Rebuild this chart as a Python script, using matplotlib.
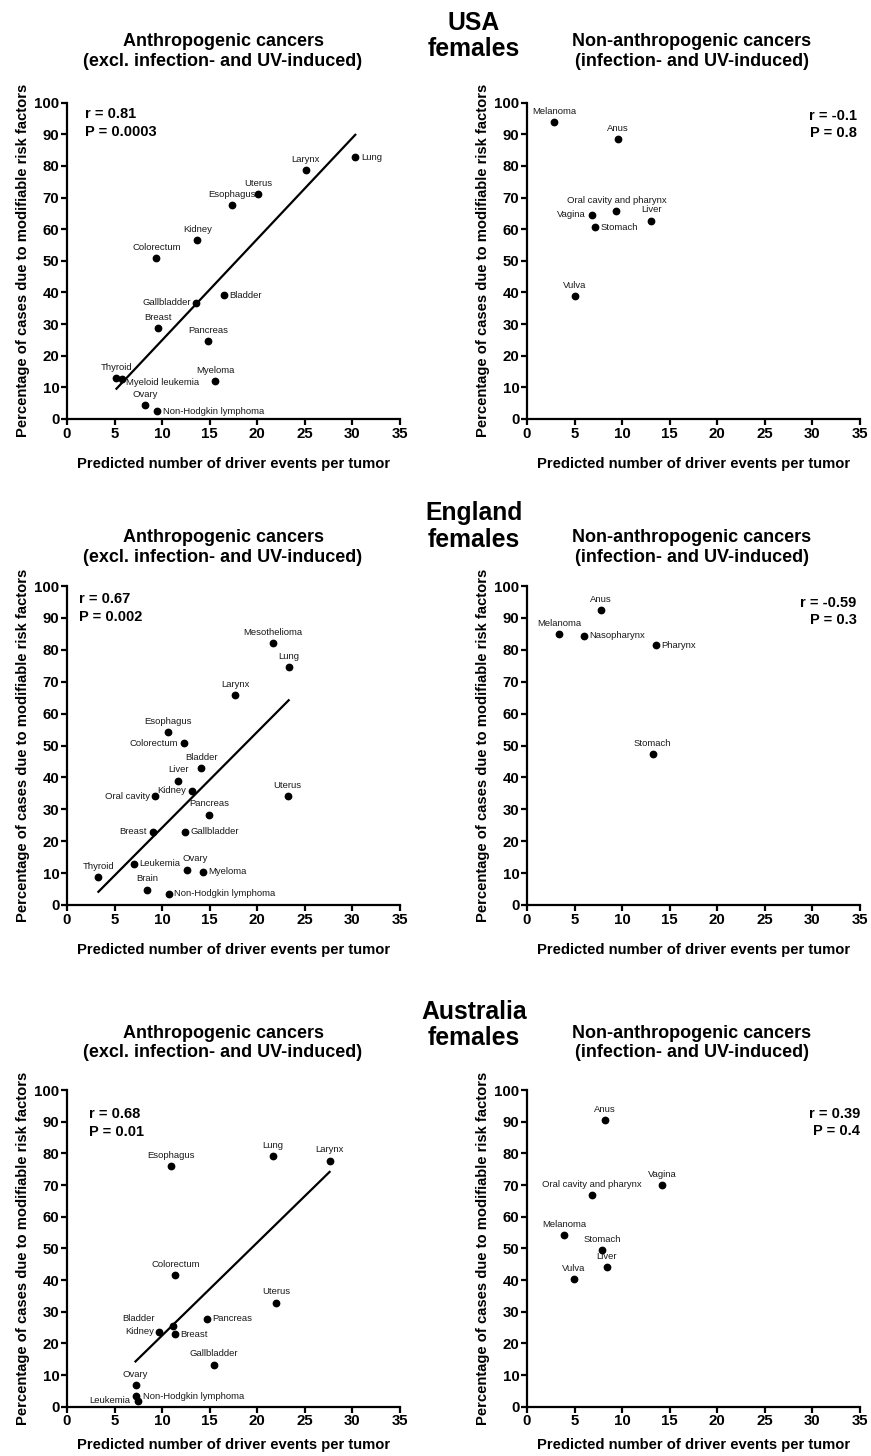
import numpy as np
import matplotlib
matplotlib.use('Agg')
import matplotlib.pyplot as plt

plt.rcParams['font.family'] = ['Liberation Sans', 'DejaVu Sans']

# ---- data ----
# USA, anthropogenic
usa_a_names = ['Lung', 'Larynx', 'Uterus', 'Esophagus', 'Kidney', 'Colorectum', 'Bladder',
               'Gallbladder', 'Breast', 'Pancreas', 'Thyroid', 'Myeloid leukemia', 'Myeloma',
               'Ovary', 'Non-Hodgkin lymphoma']
usa_a_x = [30.3, 25.1, 20.1, 17.3, 13.7, 9.4, 16.5, 13.6, 9.6, 14.8, 5.2, 5.8, 15.6, 8.25, 9.5]
usa_a_y = [82.8, 78.6, 71.1, 67.6, 56.5, 50.9, 39.2, 36.7, 28.8, 24.7, 12.9, 12.5, 11.9, 4.4, 2.5]

# USA, non-anthropogenic
usa_n_names = ['Melanoma', 'Anus', 'Oral cavity and pharynx', 'Vagina', 'Stomach', 'Liver', 'Vulva']
usa_n_x = [2.85, 9.55, 9.4, 6.8, 7.1, 13.05, 5.0]
usa_n_y = [93.8, 88.4, 65.8, 64.6, 60.6, 62.7, 38.9]

# England, anthropogenic
eng_a_names = ['Mesothelioma', 'Lung', 'Larynx', 'Esophagus', 'Colorectum', 'Bladder', 'Liver',
               'Kidney', 'Oral cavity', 'Uterus', 'Pancreas', 'Breast', 'Gallbladder', 'Thyroid',
               'Leukemia', 'Ovary', 'Myeloma', 'Brain', 'Non-Hodgkin lymphoma']
eng_a_x = [21.6, 23.3, 17.7, 10.6, 12.3, 14.1, 11.7, 13.1, 9.3, 23.2, 14.9, 9.0, 12.4, 3.3,
           7.0, 12.6, 14.3, 8.4, 10.7]
eng_a_y = [82.2, 74.6, 65.8, 54.2, 50.7, 43.0, 39.0, 35.8, 34.1, 34.2, 28.3, 23.0, 23.0, 8.8,
           12.9, 11.1, 10.5, 4.8, 3.5]

# England, non-anthropogenic
eng_n_names = ['Anus', 'Melanoma', 'Nasopharynx', 'Pharynx', 'Stomach']
eng_n_x = [7.75, 3.35, 6.0, 13.55, 13.2]
eng_n_y = [92.5, 84.8, 84.4, 81.4, 47.4]

# Australia, anthropogenic
aus_a_names = ['Lung', 'Larynx', 'Esophagus', 'Colorectum', 'Uterus', 'Pancreas', 'Bladder',
               'Kidney', 'Breast', 'Gallbladder', 'Ovary', 'Leukemia', 'Non-Hodgkin lymphoma']
aus_a_x = [21.65, 27.6, 10.95, 11.4, 22.0, 14.7, 11.1, 9.7, 11.3, 15.4, 7.2, 7.26, 7.5]
aus_a_y = [79.2, 77.7, 76.0, 41.6, 32.9, 27.8, 25.6, 23.6, 22.8, 13.3, 6.9, 3.4, 1.9]

# Australia, non-anthropogenic
aus_n_names = ['Anus', 'Vagina', 'Oral cavity and pharynx', 'Melanoma', 'Stomach', 'Liver', 'Vulva']
aus_n_x = [8.15, 14.2, 6.8, 3.9, 7.9, 8.4, 4.95]
aus_n_y = [90.4, 70.0, 66.8, 54.2, 49.4, 44.1, 40.4]

stats = [('r = 0.81', 'P = 0.0003'), ('r = -0.1', 'P = 0.8'),
         ('r = 0.67', 'P = 0.002'), ('r = -0.59', 'P = 0.3'),
         ('r = 0.68', 'P = 0.01'), ('r = 0.39', 'P = 0.4')]
countries = ['USA', 'England', 'Australia']

# label placement per point: 'a' above, 'r' right, 'l' left, or an (dx, dy) offset in points
usa_a_pos = ['r', 'a', 'a', 'a', 'a', 'a', 'r', 'l', 'a', 'a', 'a', (3, -2), 'a', 'a', 'r']
usa_n_pos = ['a', 'a', 'a', 'l', 'r', 'a', 'a']
eng_a_pos = ['a', 'a', 'a', 'a', 'l', 'a', 'a', 'l', 'l', 'a', 'a', 'l', 'r', 'a',
             'r', (6, 4.5, 'a'), 'r', 'a', 'r']
eng_n_pos = ['a', 'a', 'r', 'r', 'a']
aus_a_pos = ['a', 'a', 'a', 'a', 'a', 'r', (-13, 5), 'l', 'r', 'a', 'a', (-4, -3), (3, 3)]
aus_n_pos = ['a', 'a', 'a', 'a', 'a', 'a', 'a']

panels = [
    (usa_a_names, usa_a_x, usa_a_y, usa_a_pos, True),
    (usa_n_names, usa_n_x, usa_n_y, usa_n_pos, False),
    (eng_a_names, eng_a_x, eng_a_y, eng_a_pos, True),
    (eng_n_names, eng_n_x, eng_n_y, eng_n_pos, False),
    (aus_a_names, aus_a_x, aus_a_y, aus_a_pos, True),
    (aus_n_names, aus_n_x, aus_n_y, aus_n_pos, False),
]

# ---- layout (pixels) ----
fig = plt.figure(figsize=(8.71, 14.56), dpi=100)
W, H = 871, 1456
rows = [(102.7, 419), (586, 905), (1090, 1406.7)]
cols = [(67, 400), (527, 860)]
sub_y = [51.3, 547.5, 1043]
sub_x = [223, 692]
country_y = [36, 526.5, 1025]
xlab_pad = [12, 12, 7]
stat_pos = [(0.054, 0.985, 'left'), (0.99, 0.98, 'right'),
            (0.036, 0.98, 'left'), (0.99, 0.97, 'right'),
            (0.065, 0.945, 'left'), (1.0, 0.947, 'right')]
titles = ['Anthropogenic cancers\n(excl. infection- and UV-induced)',
          'Non-anthropogenic cancers\n(infection- and UV-induced)']

for i, (names, xs, ys, pos, fit) in enumerate(panels):
    r, c = divmod(i, 2)
    top, bot = rows[r]
    x0, x1 = cols[c]
    ax = fig.add_axes([x0 / W, 1 - bot / H, (x1 - x0) / W, (bot - top) / H])
    ax.scatter(xs, ys, s=21, color='black', zorder=3, clip_on=False)

    if fit:
        k, b = np.polyfit(xs, ys, 1)
        lx = np.array([min(xs), max(xs)])
        ax.plot(lx, k * lx + b, color='black', lw=1.6, zorder=2)

    for name, x, y, p in zip(names, xs, ys, pos):
        if p == 'a':
            off, ha, va = (0, 4.5), 'center', 'bottom'
        elif p == 'r':
            off, ha, va = (4, 0), 'left', 'center'
        elif p == 'l':
            off, ha, va = (-4, 0), 'right', 'center'
        elif len(p) == 3:
            off, ha, va = p[:2], 'center', 'bottom'
        else:
            off = p
            ha = 'left' if p[0] > 0 else 'right'
            va = 'center'
        ax.annotate(name, (x, y), xytext=off, textcoords='offset points',
                    ha=ha, va=va, fontsize=6.8, color='#1a1a1a')

    sx, sy, sha = stat_pos[i]
    ax.text(sx, sy, stats[i][0] + '\n' + stats[i][1], transform=ax.transAxes,
            ha=sha, va='top', fontsize=10.5, fontweight='bold', linespacing=1.3)

    ax.set_xlim(0, 35)
    ax.set_ylim(0, 100)
    ax.set_xticks(np.arange(0, 36, 5))
    ax.set_yticks(np.arange(0, 101, 10))
    for side in ['top', 'right']:
        ax.spines[side].set_visible(False)
    for side in ['left', 'bottom']:
        ax.spines[side].set_linewidth(1.6)
    ax.tick_params(direction='out', length=4, width=1.6, labelsize=10.8, pad=1.5)
    for lab in ax.get_xticklabels() + ax.get_yticklabels():
        lab.set_fontweight('bold')
    ax.set_xlabel('Predicted number of driver events per tumor', fontsize=10.6,
                  fontweight='bold', labelpad=xlab_pad[r])
    ax.set_ylabel('Percentage of cases due to modifiable risk factors', fontsize=10.6,
                  fontweight='bold', labelpad=3)

    # panel heading
    fig.text(sub_x[c] / W, 1 - sub_y[r] / H, titles[c], ha='center', va='center',
             fontsize=13, fontweight='bold', linespacing=1.2)

# country headings
for r, name in enumerate(countries):
    fig.text(474 / W, 1 - country_y[r] / H, name + '\nfemales', ha='center', va='center',
             fontsize=17.8, fontweight='bold', linespacing=1.15)

fig.savefig('out.png', dpi=100)
